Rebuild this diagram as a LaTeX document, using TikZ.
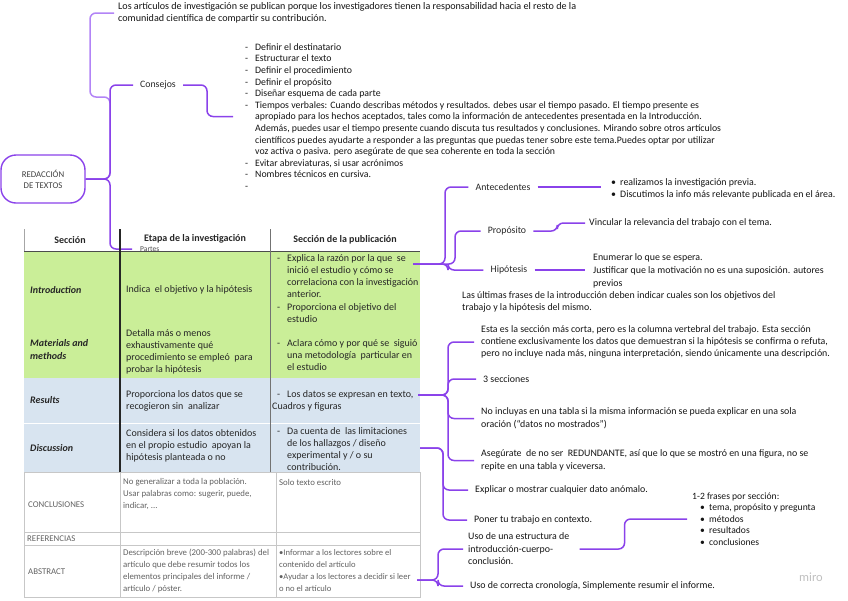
\documentclass[tikz,border=0pt]{standalone}
\usepackage{fontspec}
\setmainfont{Carlito}
\definecolor{purp}{RGB}{138,66,234}
\definecolor{lpurp}{RGB}{178,132,246}
\definecolor{tgreen}{RGB}{202,238,152}
\definecolor{tblue}{RGB}{216,228,240}
\newcommand\myitem[1]{\makebox[10pt][l]{-}#1}
\newcommand\mycont[1]{\hspace*{10pt}#1}
\newcommand\mybul[1]{\makebox[9pt][l]{•}#1}
\begin{document}
\begin{tikzpicture}[x=1pt,y=-1pt,
 conn/.style={draw=purp,line width=1.5pt,rounded corners=6pt},
 mtext/.style={anchor=west,inner sep=0pt,align=left,font=\fontsize{9.9}{12}\selectfont,text=black!92},
 mlabel/.style={inner xsep=7pt,inner ysep=2pt,font=\fontsize{9.8}{10}\selectfont,text=black!85},
 ttext/.style={anchor=west,inner sep=0pt,align=left,font=\fontsize{10}{12}\selectfont,text=black!85},
 thead/.style={inner sep=0pt,font=\bfseries\fontsize{10}{10}\selectfont,text=black!85},
 tsec/.style={anchor=west,inner sep=0pt,align=left,font=\bfseries\itshape\fontsize{10}{12.5}\selectfont,text=black!85},
 ltext/.style={anchor=west,inner sep=0pt,align=left,font=\fontsize{8.8}{12}\selectfont,text=black!62},
]
\useasboundingbox (0,0) rectangle (848,600);

% ---------- root and left branches ----------
\node[draw=purp,line width=1.4pt,rounded corners=15pt,minimum width=84pt,minimum height=48pt,align=center,font=\fontsize{8.8}{11}\selectfont,text=black!75] (root) at (43,179) {REDACCIÓN\\DE TEXTOS};
\coordinate (jr) at (110,179);

\node[mtext,font=\fontsize{10.1}{12}\selectfont] (top) at (118,13) {Los artículos de investigación se publican porque los investigadores tienen la responsabilidad hacia el resto de la\\comunidad científica de compartir su contribución.};

\node[mlabel] (consejos) at (158,85) {Consejos};
\node[mtext,font=\fontsize{9.8}{11.6}\selectfont] (clist) at (245,116.5) {\myitem{Definir el destinatario}\\
\myitem{Estructurar el texto}\\
\myitem{Definir el procedimiento}\\
\myitem{Definir el propósito}\\
\myitem{Diseñar esquema de cada parte}\\
\myitem{Tiempos verbales: Cuando describas métodos y resultados. debes usar el tiempo pasado. El tiempo presente es}\\
\mycont{apropiado para los hechos aceptados, tales como la información de antecedentes presentada en la Introducción.}\\
\mycont{Además, puedes usar el tiempo presente cuando discuta tus resultados y conclusiones. Mirando sobre otros artículos}\\
\mycont{científicos puedes ayudarte a responder a las preguntas que puedas tener sobre este tema.Puedes optar por utilizar}\\
\mycont{voz activa o pasiva. pero asegúrate de que sea coherente en toda la sección}\\
\myitem{Evitar abreviaturas, si usar acrónimos}\\
\myitem{Nombres técnicos en cursiva.}\\
\myitem{}};

\draw[conn,draw=lpurp] (root.east) -- (jr) -- (110,97) -- (90,97) |- ([xshift=-4pt]top.west);
\draw[conn] (root.east) -- (jr) |- (consejos.west);
\draw[conn] (consejos.east) -- (207,85) |- ([xshift=-12pt]clist.west);

% ---------- table header ----------
\draw[black!35,line width=0.6pt] (24,229) -- (24,251);
\node[thead] (hsec) at (70,240) {Sección};
\node[thead] (hetapa) at (195,239) {Etapa de la investigación};
\node[thead] (hpub) at (345,240) {Sección de la publicación};

\node[anchor=west,inner sep=0pt,font=\fontsize{7.5}{8}\selectfont,text=black!70] (partes) at (140,249) {Partes};
\draw[conn] (root.east) -- (jr) |- ([xshift=-8pt]partes.west);

% ---------- upper table ----------
\fill[tgreen] (24,251) rectangle (420,378);
\fill[tblue] (24,378) rectangle (420,423);
\fill[tblue] (24,424) rectangle (420,472);
\draw[white,line width=1pt] (24,423.5) -- (420,423.5);
\draw[black!70,line width=0.8pt] (24,251) -- (420,251);
\draw[black!85,line width=1.3pt] (120,229) -- (120,472);
\draw[black!55,line width=0.7pt] (270,229) -- (270,472);
\draw[black!45,line width=0.8pt] (24,472) -- (420,472);

\node[tsec] (c1i) at (30,290) {Introduction};
\node[tsec] (c1m) at (30,349.5) {Materials and\\methods};
\node[tsec] (c1r) at (30,400) {Results};
\node[tsec] (c1d) at (30,448) {Discussion};
\node[ttext] (c2i) at (126,290) {Indica\ \ el objetivo y la hipótesis};
\node[ttext] (c2m) at (126,351.5) {Detalla más o menos\\exhaustivamente qué\\procedimiento se empleó\ \ para\\probar la hipótesis};
\node[ttext] (c2r) at (126,400.5) {Proporciona los datos que se\\recogieron sin\ \ analizar};
\node[ttext] (c2d) at (126,446) {Considera si los datos obtenidos\\en el propio estudio\ \ apoyan la\\hipótesis planteada o no};
\node[ttext] (c3i) at (277,289) {\myitem{Explica la razón por la que\ \ se}\\\mycont{inició el estudio y cómo se}\\\mycont{correlaciona con la investigación}\\\mycont{anterior.}\\[1pt]\myitem{Proporciona el objetivo del}\\\mycont{estudio}};
\node[ttext] (c3m) at (277,355) {\myitem{Aclara cómo y por qué se\ \ siguió}\\\mycont{una metodología\ \ particular en}\\\mycont{el estudio}};
\node[ttext] (c3r) at (272,400.5) {\hspace*{5pt}\myitem{Los datos se expresan en texto,}\\Cuadros y figuras};
\node[ttext] (c3d) at (277,449.5) {\myitem{Da cuenta de\ \ las limitaciones}\\\mycont{de los hallazgos / diseño}\\\mycont{experimental y / o su}\\\mycont{contribución.}};

% ---------- lower table ----------
\draw[black!22,line width=0.6pt] (24,472) rectangle (420,597);
\draw[black!22,line width=0.6pt] (24,532) -- (420,532) (24,545) -- (420,545) (120,472) -- (120,597) (276,472) -- (276,597);
\node[ltext] (lc1) at (28,505) {CONCLUSIONES};
\node[ltext] (lc2) at (123,494) {No generalizar a toda la población.\\Usar palabras como: sugerir, puede,\\indicar, ...};
\node[ltext] (lc3) at (279,482) {Solo texto escrito};
\node[ltext] (lr1) at (27,539) {REFERENCIAS};
\node[ltext] (la1) at (28,572) {ABSTRACT};
\node[ltext] (la2) at (123,571) {Descripción breve (200-300 palabras) del\\artículo que debe resumir todos los\\elementos principales del informe /\\artículo / póster.};
\node[ltext,font=\fontsize{8.6}{12}\selectfont] (la3) at (279,571) {•Informar a los lectores sobre el\\contenido del artículo\\•Ayudar a los lectores a decidir si leer\\o no el artículo};

% ---------- right side ----------
\coordinate (tI) at (413,264);
\coordinate (tR) at (418,395);
\coordinate (tD) at (420,448);
\coordinate (tA) at (417,580);

\node[mlabel] (ante) at (503,187) {Antecedentes};
\node[mtext] (antel) at (611,189) {\mybul{realizamos la investigación previa.}\\\mybul{Discutimos la info más relevante publicada en el área.}};
\node[mlabel] (prop) at (507,231) {Propósito};
\node[mtext] (vinc) at (589,223) {Vincular la relevancia del trabajo con el tema.};
\node[mlabel] (hip) at (509,270) {Hipótesis};
\node[mtext,font=\fontsize{9.9}{13}\selectfont] (enum) at (593,271) {Enumerar lo que se espera.\\Justificar que la motivación no es una suposición. autores\\previos};
\node[mtext] (ultimas) at (462,302) {Las últimas frases de la introducción deben indicar cuales son los objetivos del\\trabajo y la hipótesis del mismo.};

\node[mtext] (esta) at (481,342) {Esta es la sección más corta, pero es la columna vertebral del trabajo. Esta sección\\contiene exclusivamente los datos que demuestran si la hipótesis se confirma o refuta,\\pero no incluye nada más, ninguna interpretación, siendo únicamente una descripción.};
\node[mtext] (tres) at (483,379) {3 secciones};
\node[mtext,font=\fontsize{9.9}{13}\selectfont] (noinc) at (481,418.5) {No incluyas en una tabla si la misma información se pueda explicar en una sola\\oración (“datos no mostrados”)};
\node[mtext,font=\fontsize{9.9}{13}\selectfont] (aseg) at (481,460.5) {Asegúrate\ \ de no ser\ \ REDUNDANTE, así que lo que se mostró en una figura, no se\\repite en una tabla y viceversa.};

\node[mtext] (expl) at (475,490) {Explicar o mostrar cualquier dato anómalo.};
\node[mtext] (poner) at (474,520) {Poner tu trabajo en contexto.};

\node[mtext,font=\fontsize{9.9}{12.5}\selectfont] (usoe) at (468,549) {Uso de una estructura de\\introducción-cuerpo-\\conclusión.};
\node[mtext] (usoc) at (470,586) {Uso de correcta cronología, Simplemente resumir el informe.};
\node[mtext,font=\fontsize{9.6}{11.5}\selectfont] (frases) at (692,519) {1-2 frases por sección:\\\hspace*{8pt}\mybul{tema, propósito y pregunta}\\\hspace*{8pt}\mybul{métodos}\\\hspace*{8pt}\mybul{resultados}\\\hspace*{8pt}\mybul{conclusiones}};
\node[text=black!25,font=\fontsize{12.5}{12}\selectfont] (miro) at (811,577) {miro};

\draw[conn] (tI) -- (445,264) |- (ante.west);
\draw[conn] (tI) -- (455,264) |- (prop.west);
\draw[conn] (tI) -- (448,264) |- (hip.west);
\draw[conn] (ante.east) -- ([xshift=-10pt]antel.west |- ante.east);
\draw[conn] (prop.east) -- ++(24,0) |- ([xshift=-4pt]vinc.west);
\draw[conn] (hip.east) -- ([xshift=-8pt]enum.west |- hip.east);

\draw[conn] (tR) -- (448,395) |- ([xshift=-7pt]esta.west);
\draw[conn] (tR) -- (448,395) |- ([xshift=-7pt]tres.west);
\draw[conn] (tR) -- (448,395) |- ([xshift=-7pt]noinc.west);
\draw[conn] (tR) -- (448,395) |- ([xshift=-7pt]aseg.west);

\draw[conn] (tD) -- (443,448) |- ([xshift=-7pt]expl.west);
\draw[conn] (tD) -- (443,448) |- ([xshift=-7pt]poner.west);

\draw[conn] (tA) -- (438,580) |- ([xshift=-5pt]usoe.west);
\draw[conn] (tA) -- (438,580) |- ([xshift=-7pt]usoc.west);
\draw[conn] ([xshift=10pt]usoe.east) -- ++(45,0) |- ([xshift=-5pt]frases.west);
\end{tikzpicture}
\end{document}
